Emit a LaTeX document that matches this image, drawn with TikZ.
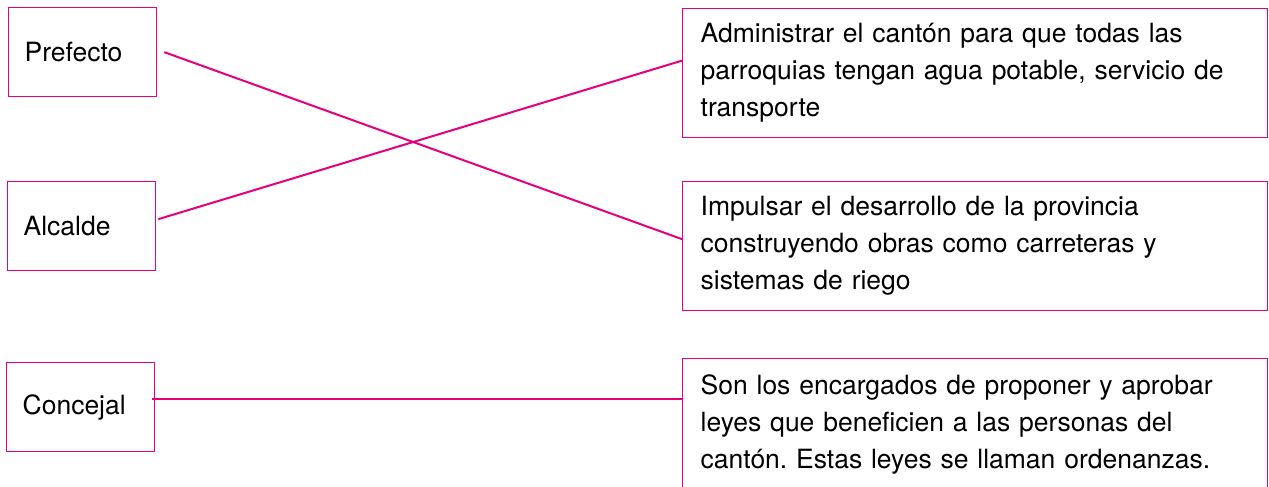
\documentclass[tikz,border=0pt]{standalone}
\usepackage{fontspec}
\setmainfont{TeX Gyre Heros}
\usetikzlibrary{positioning}
\definecolor{rosa}{HTML}{E6007E}
\frenchspacing

\begin{document}
\begin{tikzpicture}[
    x=1pt, y=-1pt,
    cargo/.style={rectangle, draw=rosa, line width=1.3pt, minimum width=148pt, minimum height=89pt,
        text width=116pt, inner xsep=16pt, align=left, font=\fontsize{26.5}{37}\selectfont, anchor=north west},
    tarea/.style={rectangle, draw=rosa, line width=1.3pt, minimum width=585pt, minimum height=129pt,
        text width=549pt, inner xsep=18pt, align=left, font=\fontsize{26.5}{37}\selectfont, anchor=north west},
    enlace/.style={draw=rosa, line width=2pt}
]
    \useasboundingbox (0,0) rectangle (1269,487);
    \node[cargo] (pref) at (8,7) {Prefecto};
    \node[cargo] (alc) at (7,181) {Alcalde};
    \node[cargo] (conc) at (6,362) {Concejal};
    \node[tarea] (admin) at (682,8) {Administrar el cantón para que todas las\\parroquias tengan agua potable, servicio de\\transporte};
    \node[tarea] (impul) at (682,181) {Impulsar el desarrollo de la provincia\\construyendo obras como carreteras y\\sistemas de riego};
    \node[tarea, minimum height=131pt] (leyes) at (682,358) {Son los encargados de proponer y aprobar\\leyes que beneficien a las personas del\\cantón. Estas leyes se llaman ordenanzas.};

    \coordinate (fin) at ([xshift=-3pt,yshift=8pt]conc.east);
    \draw[enlace] ([xshift=7pt]pref.east) -- ([yshift=7pt]impul.west);
    \draw[enlace] ([xshift=2pt,yshift=7pt]alc.east) -- ([yshift=12.5pt]admin.west);
    \draw[enlace] (fin) -- (fin -| leyes.west);
\end{tikzpicture}
\end{document}
